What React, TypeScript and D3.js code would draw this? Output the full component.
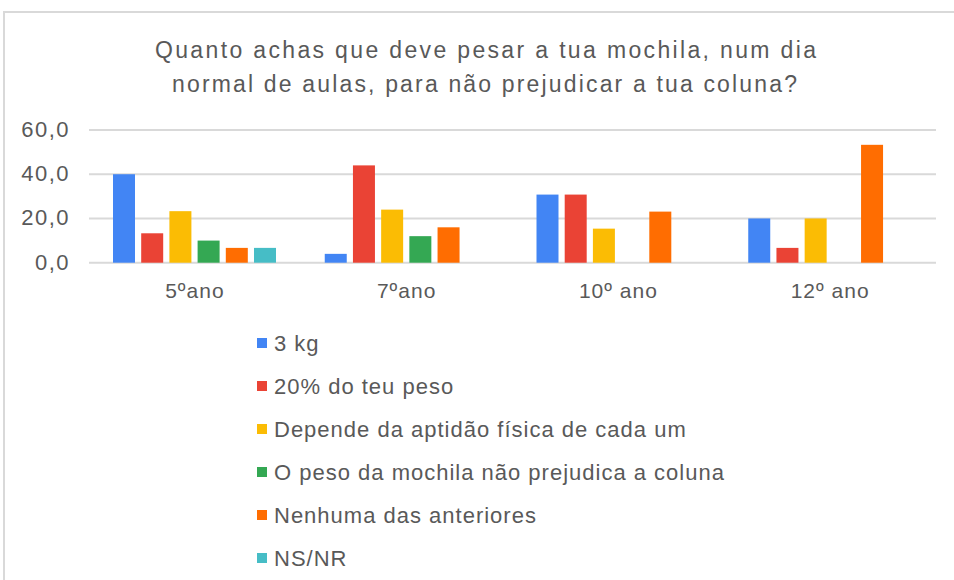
import React, { useRef, useEffect } from 'react'
import * as d3 from 'd3'

// anos (categorias)
const categories = ['5ºano', '7ºano', '10º ano', '12º ano']
const seriesNames = [
  '3 kg',
  '20% do teu peso',
  'Depende da aptidão física de cada um',
  'O peso da mochila não prejudica a coluna',
  'Nenhuma das anteriores',
  'NS/NR',
]
const seriesColors = ['#4285F4', '#EA4335', '#FBBC04', '#34A853', '#FF6D01', '#46BDC6']
// percentagens por série, pela ordem das categorias (null = sem barra)
const v3kg = [40.0, 4.0, 30.8, 20.0]
const v20pct = [13.3, 44.0, 30.8, 6.7]
const vDepende = [23.3, 24.0, 15.4, 20.0]
const vNaoPrejudica = [10.0, 12.0, null, null]
const vNenhuma = [6.7, 16.0, 23.1, 53.3]
const vNsNr = [6.7, null, null, null]
const seriesValues = [v3kg, v20pct, vDepende, vNaoPrejudica, vNenhuma, vNsNr]
const yTicks = [0, 20, 40, 60]
const titleLines = [
  'Quanto achas que deve pesar a tua mochila, num dia',
  'normal de aulas, para não prejudicar a tua coluna?',
]

export default function App() {
  const svgRef = useRef<SVGSVGElement>(null)

  useEffect(() => {
    document.body.style.margin = '0'
    const w = 954
    const h = 580
    const svg = d3.select(svgRef.current)
      .attr('width', w)
      .attr('height', h)
      .style('display', 'block')
      .style('font-family', 'Arial, "Liberation Sans", sans-serif')
    svg.selectAll('*').remove()

    const textColor = '#595959'

    // borda do gráfico
    svg.append('rect')
      .attr('x', 4).attr('y', 12)
      .attr('width', 960).attr('height', 600)
      .attr('fill', '#fff')
      .attr('stroke', '#d9d9d9')
      .attr('stroke-width', 2)

    // título
    svg.append('g')
      .selectAll('text')
      .data(titleLines)
      .join('text')
        .attr('x', (d, i) => i === 0 ? 155 : 172)
        .attr('y', (d, i) => 58 + i * 34)
        .attr('textLength', (d, i) => i === 0 ? 661 : 625)
        .attr('lengthAdjust', 'spacing')
        .attr('font-size', 23)
        .attr('fill', textColor)
        .text(d => d)

    const left = 89
    const right = 936
    const yScale = d3.scaleLinear().domain([0, 60]).range([262.7, 130])

    const x0 = d3.scaleBand<string>()
      .domain(categories)
      .range([left, right])
    const bw = x0.bandwidth()
    const x1 = d3.scaleBand<number>()
      .domain(d3.range(seriesNames.length))
      .range([24, 187])
      .paddingInner(0.22)
      .paddingOuter(0)

    // grelha
    svg.append('g')
      .selectAll('line')
      .data(yTicks)
      .join('line')
        .attr('x1', left).attr('x2', right)
        .attr('y1', d => yScale(d)).attr('y2', d => yScale(d))
        .attr('stroke', '#d9d9d9')
        .attr('stroke-width', 2)

    // rótulos eixo y
    svg.append('g')
      .selectAll('text')
      .data(yTicks)
      .join('text')
        .attr('x', 70)
        .attr('y', d => yScale(d) + 7)
        .attr('text-anchor', 'end')
        .attr('font-size', 22)
        .attr('letter-spacing', 1.5)
        .attr('fill', textColor)
        .text(d => d3.format('.1f')(d).replace('.', ','))

    // barras
    const bars = seriesValues.flatMap((vals, s) =>
      vals.map((v, c) => ({ s, c, v })).filter(d => d.v !== null))
    svg.append('g')
      .selectAll('rect')
      .data(bars)
      .join('rect')
        .attr('x', d => x0(categories[d.c])! + x1(d.s)!)
        .attr('width', x1.bandwidth())
        .attr('y', d => yScale(d.v as number))
        .attr('height', d => yScale(0) - yScale(d.v as number))
        .attr('fill', d => seriesColors[d.s])

    // rótulos categorias
    svg.append('g')
      .selectAll('text')
      .data(categories)
      .join('text')
        .attr('x', d => x0(d)! + bw / 2)
        .attr('y', 298)
        .attr('text-anchor', 'middle')
        .attr('font-size', 21)
        .attr('letter-spacing', 1)
        .attr('fill', textColor)
        .text(d => d)

    // legenda
    const legend = svg.append('g')
      .selectAll('g')
      .data(seriesNames)
      .join('g')
        .attr('transform', (d, i) => `translate(257, ${343 + i * 43})`)
    legend.append('rect')
      .attr('x', 0).attr('y', -5)
      .attr('width', 10).attr('height', 10)
      .attr('fill', (d, i) => seriesColors[i])
    legend.append('text')
      .attr('x', 17)
      .attr('y', 8)
      .attr('font-size', 22)
      .attr('letter-spacing', 1)
      .attr('fill', textColor)
      .text(d => d)
  }, [])

  return (
    <div>
      <svg ref={svgRef}></svg>
    </div>
  )
}
